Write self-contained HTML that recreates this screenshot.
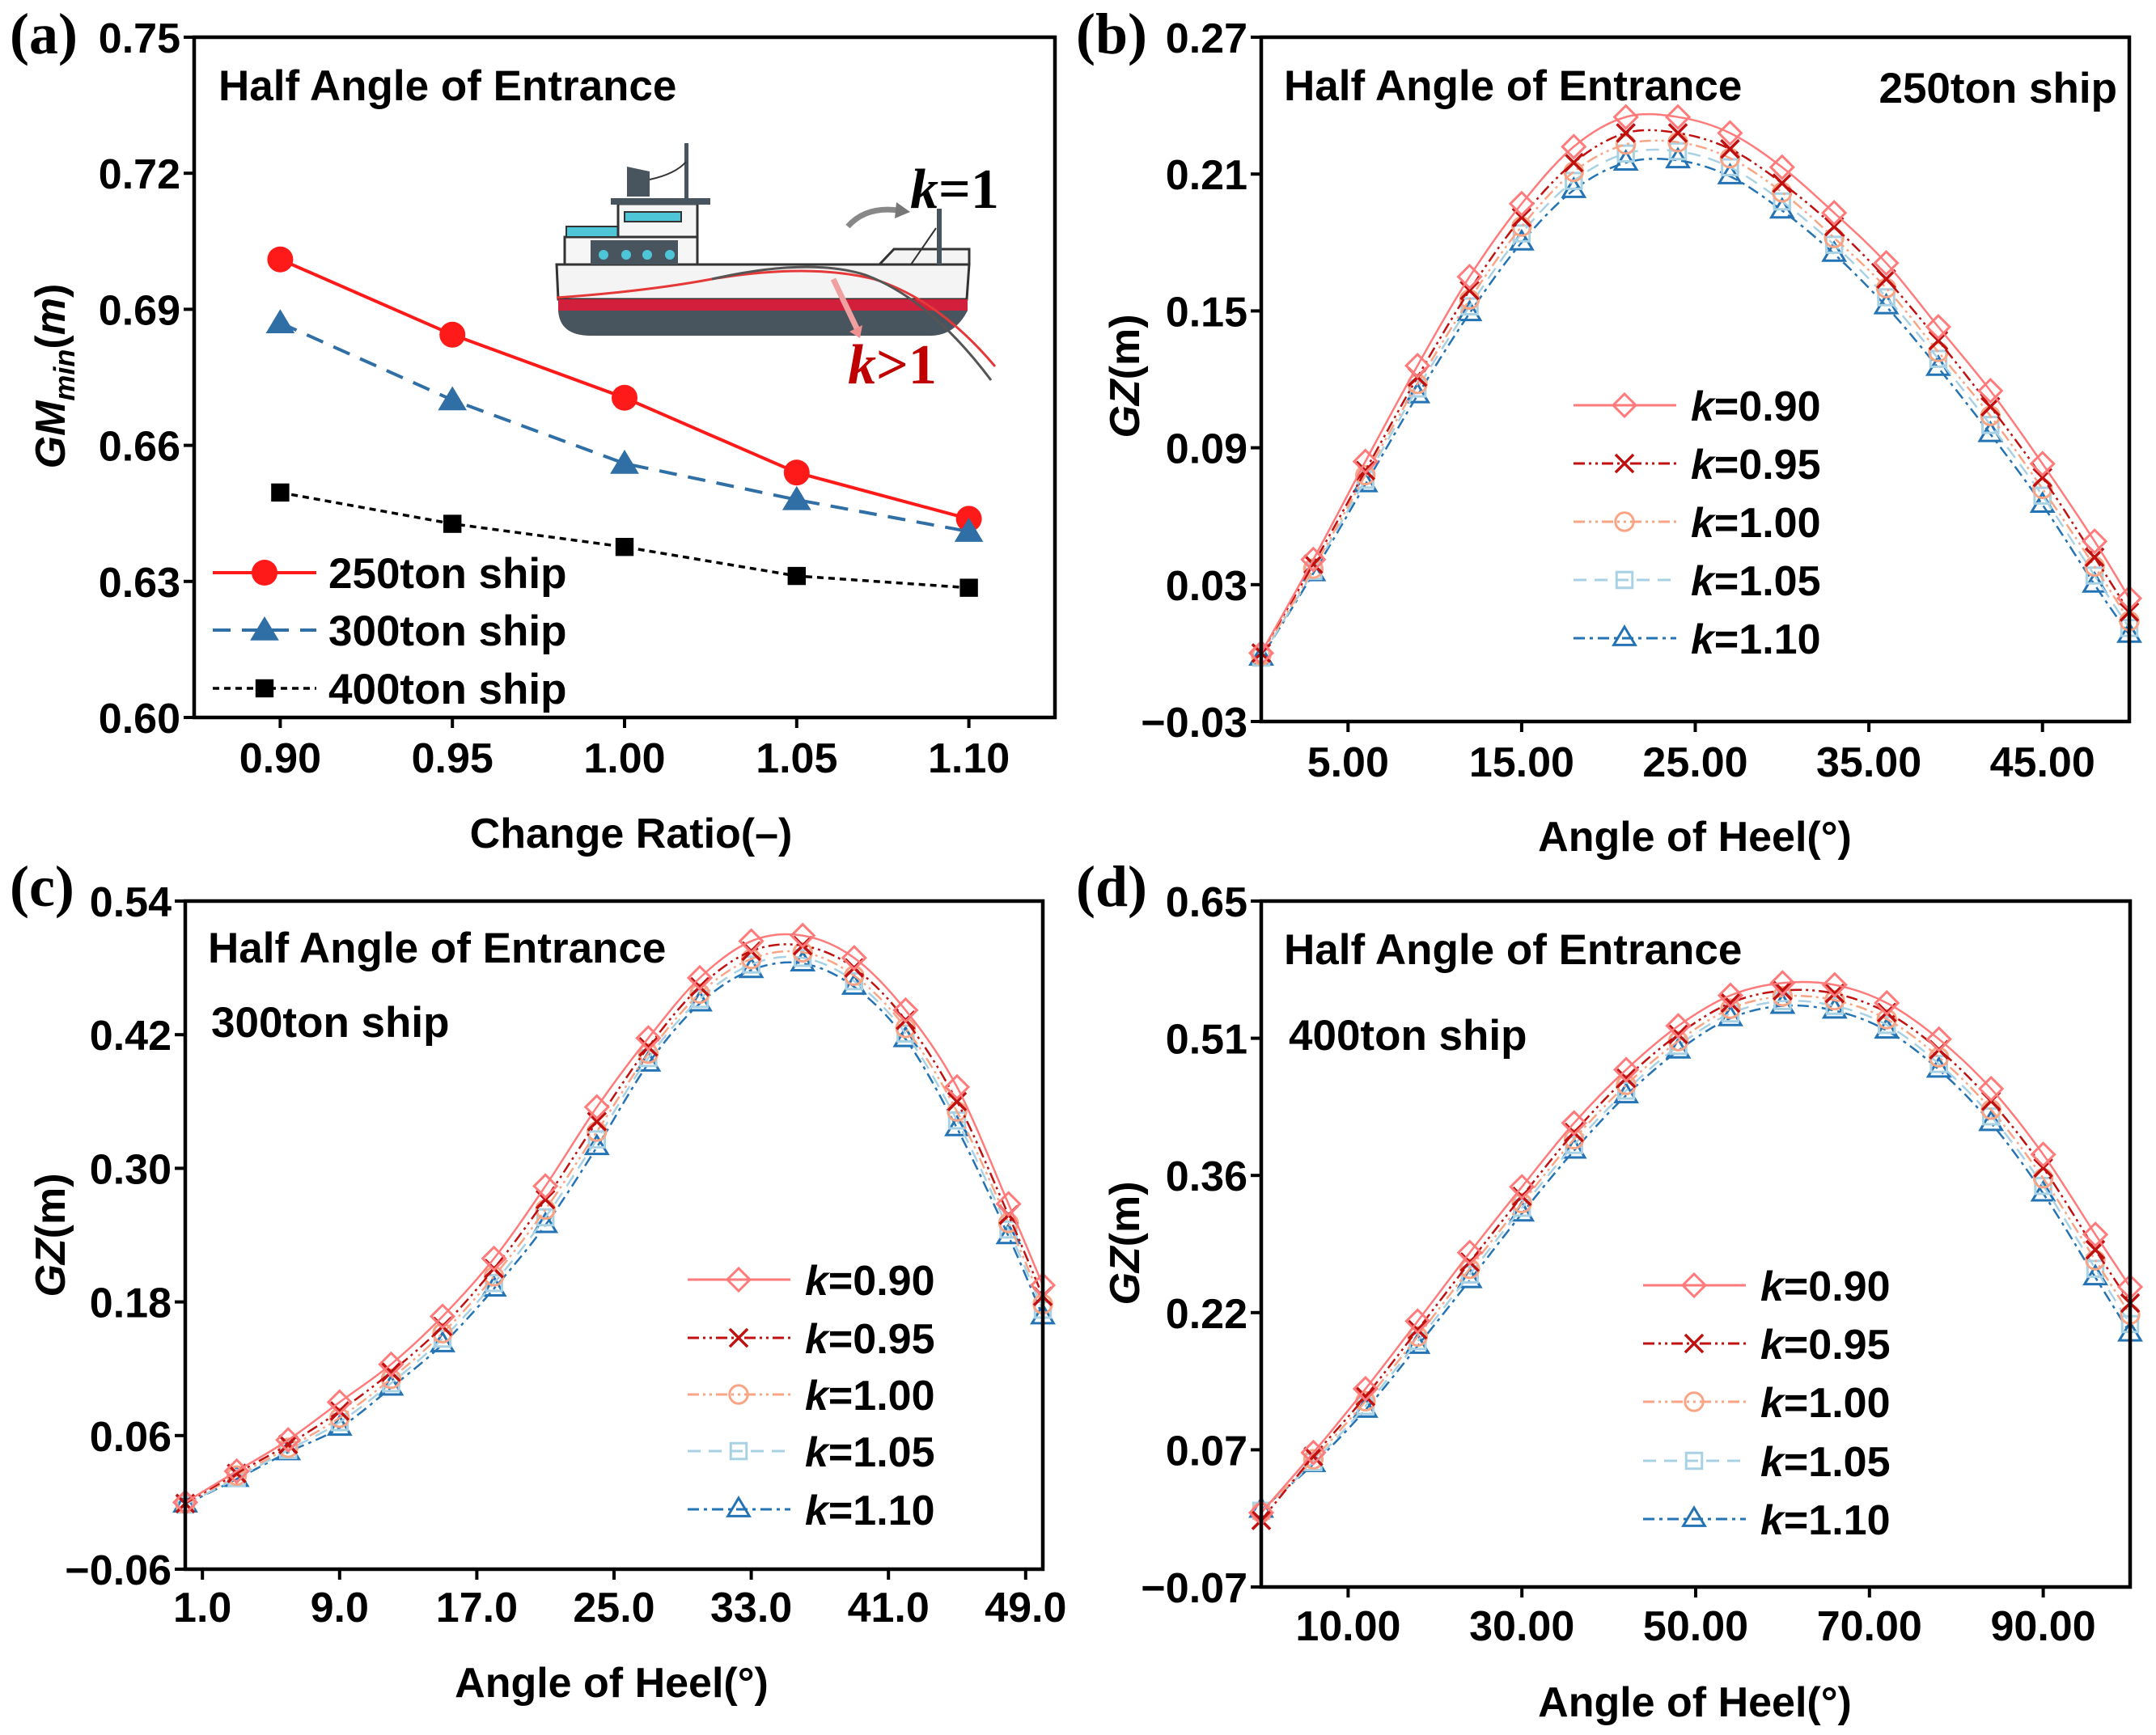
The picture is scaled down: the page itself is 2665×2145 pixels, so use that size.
<!DOCTYPE html>
<html><head><meta charset="utf-8"><title>GM and GZ charts</title>
<style>
html,body{margin:0;padding:0;background:#fff;}
svg{display:block;}
text{font-family:"Liberation Sans",Arial,sans-serif;font-weight:bold;fill:#000;}
.serif{font-family:"Liberation Serif","Times New Roman",serif;}
</style></head>
<body>
<svg id="fig" xmlns="http://www.w3.org/2000/svg" width="2665" height="2145" viewBox="0 0 2665 2145">
<g id="ship">
  <path d="M688 327 L1198 327 L1195 370 L690 370 Z" fill="#f4f4f4" stroke="#333" stroke-width="3"/>
  <rect x="690" y="370" width="506" height="14" fill="#d21f3c"/>
  <path d="M690 384 L1196 384 Q1180 415 1150 415 L730 415 Q692 415 690 384 Z" fill="#48545e"/>
  <path d="M1087 327 L1105 308 L1198 308 L1198 327 Z" fill="#f4f4f4" stroke="#333" stroke-width="3"/>
  <rect x="698" y="293" width="164" height="34" fill="#f6f6f6" stroke="#333" stroke-width="3"/>
  <rect x="730" y="297" width="108" height="30" fill="#48545e"/>
  <circle cx="746" cy="315" r="6" fill="#4fc6d8"/><circle cx="774" cy="315" r="6" fill="#4fc6d8"/><circle cx="800" cy="315" r="6" fill="#4fc6d8"/><circle cx="828" cy="315" r="6" fill="#4fc6d8"/>
  <rect x="700" y="280" width="66" height="13" fill="#4fc6d8" stroke="#333" stroke-width="2"/>
  <rect x="764" y="252" width="98" height="41" fill="#f6f6f6" stroke="#333" stroke-width="3"/>
  <rect x="772" y="262" width="70" height="12" fill="#4fc6d8" stroke="#333" stroke-width="2"/>
  <rect x="755" y="245" width="123" height="8" fill="#48545e"/>
  <path d="M775 243 L775 206 L803 212 L803 243 Z" fill="#48545e"/>
  <rect x="846" y="177" width="5" height="68" fill="#48545e"/>
  <path d="M803 222 Q835 215 848 200" fill="none" stroke="#333" stroke-width="2"/>
  <rect x="1158" y="258" width="6" height="69" fill="#48545e"/>
  <path d="M1126 327 L1157 282" stroke="#333" stroke-width="2"/>
  <path d="M688 368 Q800 360 880 345 Q1000 325 1080 345 Q1160 370 1230 453" fill="none" stroke="#e53838" stroke-width="3"/>
  <path d="M880 345 Q1000 318 1070 340 Q1150 370 1225 470" fill="none" stroke="#555" stroke-width="3"/>
  <path d="M1048 280 Q1070 255 1110 260" fill="none" stroke="#888" stroke-width="7"/>
  <path d="M1108 250 L1125 262 L1106 270 Z" fill="#777"/>
  <path d="M1030 345 L1060 408" stroke="#f0a0a0" stroke-width="7"/>
  <path d="M1050 410 L1063 418 L1066 402 Z" fill="#f09090"/>
  <text class="serif" x="1125" y="257" font-size="70"><tspan font-style="italic">k</tspan>=1</text>
  <text class="serif" x="1048" y="474" font-size="70" fill="#c00000" style="fill:#c00000"><tspan font-style="italic">k</tspan>&gt;1</text>
</g>
</svg>
<script>
// ---------- Panel (a) data ----------
const aCats = [0.90, 0.95, 1.00, 1.05, 1.10];
const a250 = [0.701, 0.6844, 0.6705, 0.654, 0.6438];
const a300 = [0.687, 0.670, 0.656, 0.648, 0.641];
const a400 = [0.6496, 0.6427, 0.6376, 0.6312, 0.6286];
const aYTicks = ["0.60","0.63","0.66","0.69","0.72","0.75"];
const aXTicks = ["0.90","0.95","1.00","1.05","1.10"];
// ---------- Panel (b) data: 250 ton ----------
const bX = [0,3,6,9,12,15,18,21,24,27,30,33,36,39,42,45,48,50];
const bK090 = [0.000,0.041,0.084,0.126,0.165,0.197,0.222,0.235,0.235,0.228,0.213,0.193,0.171,0.143,0.115,0.083,0.049,0.024];
const bK095 = [0.000,0.039,0.080,0.121,0.159,0.191,0.215,0.228,0.228,0.221,0.206,0.187,0.164,0.137,0.108,0.077,0.042,0.018];
const bK100 = [-0.001,0.037,0.078,0.118,0.155,0.187,0.211,0.223,0.224,0.217,0.202,0.182,0.160,0.132,0.104,0.072,0.038,0.014];
const bK105 = [-0.002,0.036,0.076,0.116,0.152,0.184,0.207,0.219,0.220,0.213,0.198,0.179,0.156,0.129,0.100,0.069,0.034,0.011];
const bK110 = [-0.002,0.035,0.074,0.113,0.149,0.180,0.203,0.215,0.216,0.209,0.194,0.175,0.152,0.125,0.096,0.065,0.030,0.008];
const bYTicks = ["\u22120.03","0.03","0.09","0.15","0.21","0.27"];
const bXTickVals = [5,15,25,35,45];
const bXTicks = ["5.00","15.00","25.00","35.00","45.00"];
// ---------- Panel (c) data: 300 ton ----------
const cX = [0,3,6,9,12,15,18,21,24,27,30,33,36,39,42,45,48,50];
const cK090 = [0.000,0.028,0.056,0.090,0.124,0.167,0.219,0.284,0.355,0.417,0.471,0.504,0.509,0.489,0.442,0.373,0.268,0.195];
const cK095 = [-0.001,0.026,0.052,0.082,0.117,0.158,0.210,0.272,0.342,0.409,0.463,0.495,0.500,0.480,0.433,0.360,0.258,0.185];
const cK100 = [-0.001,0.024,0.049,0.076,0.111,0.152,0.203,0.263,0.333,0.403,0.457,0.488,0.494,0.473,0.426,0.351,0.251,0.178];
const cK105 = [-0.002,0.022,0.047,0.072,0.107,0.147,0.197,0.256,0.326,0.399,0.452,0.483,0.489,0.468,0.421,0.343,0.245,0.173];
const cK110 = [-0.002,0.021,0.045,0.067,0.103,0.142,0.192,0.249,0.319,0.394,0.448,0.478,0.484,0.463,0.416,0.336,0.239,0.167];
const cYTicks = ["\u22120.06","0.06","0.18","0.30","0.42","0.54"];
const cXTickVals = [1,9,17,25,33,41,49];
const cXTicks = ["1.0","9.0","17.0","25.0","33.0","41.0","49.0"];
// ---------- Panel (d) data: 400 ton ----------
const dX = [0,6,12,18,24,30,36,42,48,54,60,66,72,78,84,90,96,100];
const dK090 = [0.008,0.071,0.138,0.209,0.281,0.350,0.417,0.473,0.519,0.551,0.564,0.562,0.543,0.505,0.453,0.384,0.300,0.245];
const dK095 = [0.000,0.067,0.130,0.200,0.271,0.340,0.407,0.464,0.510,0.543,0.556,0.553,0.533,0.494,0.440,0.370,0.284,0.228];
const dK100 = [0.008,0.064,0.125,0.193,0.264,0.333,0.400,0.457,0.503,0.537,0.550,0.546,0.526,0.486,0.431,0.359,0.273,0.216];
const dK105 = [0.010,0.061,0.120,0.188,0.258,0.328,0.394,0.451,0.498,0.532,0.545,0.540,0.520,0.479,0.424,0.351,0.264,0.206];
const dK110 = [0.011,0.059,0.116,0.183,0.252,0.322,0.388,0.446,0.493,0.527,0.540,0.535,0.514,0.473,0.417,0.343,0.255,0.196];
const dYTicks = ["\u22120.07","0.07","0.22","0.36","0.51","0.65"];
const dXTickVals = [10,30,50,70,90];
const dXTicks = ["10.00","30.00","50.00","70.00","90.00"];
const kLabels = ["0.90","0.95","1.00","1.05","1.10"];

const NS = "http://www.w3.org/2000/svg";
const svg = document.getElementById('fig');
function mk(tag, attrs, parent) {
  const e = document.createElementNS(NS, tag);
  for (const k in attrs) e.setAttribute(k, attrs[k]);
  (parent || svg).appendChild(e);
  return e;
}
function smoothPath(pts) {
  let d = "M" + pts[0][0] + " " + pts[0][1];
  for (let i = 0; i < pts.length - 1; i++) {
    const p0 = pts[Math.max(0, i - 1)], p1 = pts[i], p2 = pts[i + 1], p3 = pts[Math.min(pts.length - 1, i + 2)];
    const c1x = p1[0] + (p2[0] - p0[0]) / 6, c1y = p1[1] + (p2[1] - p0[1]) / 6;
    const c2x = p2[0] - (p3[0] - p1[0]) / 6, c2y = p2[1] - (p3[1] - p1[1]) / 6;
    d += " C" + c1x + " " + c1y + " " + c2x + " " + c2y + " " + p2[0] + " " + p2[1];
  }
  return d;
}
function marker(g, type, x, y, color, s) {
  let e;
  if (type === 'diamond') e = mk('path', {d:`M${x} ${y-s} L${x+s} ${y} L${x} ${y+s} L${x-s} ${y} Z`, fill:'none', stroke:color, 'stroke-width':3}, g);
  else if (type === 'x') e = mk('path', {d:`M${x-s*0.85} ${y-s*0.85} L${x+s*0.85} ${y+s*0.85} M${x+s*0.85} ${y-s*0.85} L${x-s*0.85} ${y+s*0.85}`, fill:'none', stroke:color, 'stroke-width':3.5}, g);
  else if (type === 'circle') e = mk('circle', {cx:x, cy:y, r:s*0.8, fill:'none', stroke:color, 'stroke-width':3}, g);
  else if (type === 'square') e = mk('rect', {x:x-s*0.75, y:y-s*0.75, width:s*1.5, height:s*1.5, fill:'none', stroke:color, 'stroke-width':3}, g);
  else if (type === 'tri') e = mk('path', {d:`M${x} ${y-s} L${x+s*0.95} ${y+s*0.6} L${x-s*0.95} ${y+s*0.6} Z`, fill:'none', stroke:color, 'stroke-width':3}, g);
  else if (type === 'fcircle') e = mk('circle', {cx:x, cy:y, r:s, fill:color}, g);
  else if (type === 'ftri') e = mk('path', {d:`M${x} ${y-s} L${x+s*1.05} ${y+s*0.75} L${x-s*1.05} ${y+s*0.75} Z`, fill:color}, g);
  else if (type === 'fsquare') e = mk('rect', {x:x-s*0.8, y:y-s*0.8, width:s*1.6, height:s*1.6, fill:color}, g);
  
  
  return e;
}
function axes(cfg) {
  const g = mk('g', {});
  
  
  const sx = v => cfg.L + (v - cfg.x0) / (cfg.x1 - cfg.x0) * (cfg.R - cfg.L);
  const sy = v => cfg.B - (v - cfg.y0) / (cfg.y1 - cfg.y0) * (cfg.B - cfg.T);
  const ny = cfg.yTicks.length;
  for (let i = 0; i < ny; i++) {
    const y = cfg.B - i * (cfg.B - cfg.T) / (ny - 1);
    mk('line', {x1:cfg.L-13, x2:cfg.L, y1:y, y2:y, stroke:'#000', 'stroke-width':4}, g);
    const t = mk('text', {x:cfg.L-17, y:y+19, 'text-anchor':'end', 'font-size':52}, g);
    t.textContent = cfg.yTicks[i];
    
    
  }
  for (let i = 0; i < cfg.xTickVals.length; i++) {
    const x = sx(cfg.xTickVals[i]);
    mk('line', {x1:x, x2:x, y1:cfg.B, y2:cfg.B+13, stroke:'#000', 'stroke-width':4}, g);
    const t = mk('text', {x:x, y:cfg.xTickY, 'text-anchor':'middle', 'font-size':52}, g);
    t.textContent = cfg.xTicks[i];
    
    
  }
  const xl = mk('text', {x:cfg.xlx, y:cfg.xly, 'text-anchor':'middle', 'font-size':52}, g);
  xl.textContent = cfg.xlabel;
  
  
  const yl = mk('text', {x:0, y:0, 'text-anchor':'middle', 'font-size':52, transform:`translate(${cfg.ylx},${cfg.yly}) rotate(-90)`}, g);
  yl.innerHTML = cfg.ylabelHTML;
  
  
  const pl = mk('text', {x:cfg.plx, y:cfg.ply, 'font-size':72, class:'serif'}, g);
  pl.textContent = cfg.plabel;
  
  
  return {g, sx, sy};
}
function frame(g, cfg) {
  const f = mk('rect', {x:cfg.L, y:cfg.T, width:cfg.R-cfg.L, height:cfg.B-cfg.T, fill:'none', stroke:'#000', 'stroke-width':4.5}, g);
  
  
}
function label(g, txt, x, y, name, anchor) {
  const t = mk('text', {x:x, y:y, 'font-size':53, 'text-anchor':anchor||'start'}, g);
  t.textContent = txt;
  
  
}

// ---------- Panel (a) ----------
(function(){
  const cfg = {name:'panel-a', L:240, T:46, R:1304, B:887, x0:0.875, x1:1.125, y0:0.60, y1:0.75,
    yTicks:aYTicks, xTickVals:aCats, xTicks:aXTicks, xTickY:955, xlabel:'Change Ratio(\u2013)', xlx:780, xly:1048,
    ylx:80, yly:465, ylabelHTML:'<tspan font-style="italic">GM</tspan><tspan font-style="italic" font-size="36" dy="12">min</tspan><tspan dy="-12">(</tspan><tspan font-style="italic">m</tspan>)',
    plabel:'(a)', plx:12, ply:66};
  const {g, sx, sy} = axes(cfg);
  label(g, 'Half Angle of Entrance', 270, 124, 'panel-title');
  const series = [
    {vals:a250, color:'#ff1a1a', dash:'', w:4, m:'fcircle', s:16, name:'series-250ton'},
    {vals:a300, color:'#2f6fa6', dash:'22 14', w:4, m:'ftri', s:17, name:'series-300ton'},
    {vals:a400, color:'#000', dash:'8 6', w:3.5, m:'fsquare', s:14, name:'series-400ton'}];
  series.forEach(sr => {
    const pts = aCats.map((c,i) => [sx(c), sy(sr.vals[i])]);
    const p = mk('polyline', {points:pts.map(p=>p.join(',')).join(' '), fill:'none', stroke:sr.color, 'stroke-width':sr.w, 'stroke-dasharray':sr.dash}, g);
    
    
    pts.forEach(pt => marker(g, sr.m, pt[0], pt[1], sr.color, sr.s));
  });
  const legNames = ['250ton ship','300ton ship','400ton ship'];
  const legY = [708, 779, 851];
  series.forEach((sr,i) => {
    const l = mk('line', {x1:263, x2:391, y1:legY[i], y2:legY[i], stroke:sr.color, 'stroke-width':sr.w, 'stroke-dasharray':sr.dash}, g);
    
    
    marker(g, sr.m, 327, legY[i], sr.color, sr.s);
    label(g, legNames[i], 406, legY[i]+19, 'legend-entry');
  });
  frame(g, cfg);
})();

// ---------- GZ panels ----------
const styles = [
  {color:'#ff7b7b', dash:'', m:'diamond', s:14},
  {color:'#c01010', dash:'14 5 3 5 3 5', m:'x', s:13},
  {color:'#f9a585', dash:'14 5 3 5 3 5', m:'circle', s:14},
  {color:'#a8d2e4', dash:'16 10', m:'square', s:13},
  {color:'#2473b4', dash:'14 6 4 6', m:'tri', s:14}];
function gzPanel(cfg, xs, seriesVals, legX, legY) {
  const {g, sx, sy} = axes(cfg);
  const clip = mk('clipPath', {id:'clip-' + cfg.name}, svg);
  mk('rect', {x:cfg.L-20, y:cfg.T, width:cfg.R-cfg.L+40, height:cfg.B-cfg.T}, clip);
  const cg = mk('g', {'clip-path':'url(#clip-' + cfg.name + ')'}, g);
  for (let si = seriesVals.length - 1; si >= 0; si--) {
    const st = styles[si];
    const pts = xs.map((x,i) => [sx(x), sy(seriesVals[si][i])]);
    const p = mk('path', {d:smoothPath(pts), fill:'none', stroke:st.color, 'stroke-width':2.5, 'stroke-dasharray':st.dash}, cg);
    
    
    pts.forEach(pt => marker(cg, st.m, pt[0], pt[1], st.color, st.s));
  }
  styles.forEach((st,i) => {
    const y = legY[i];
    const l = mk('line', {x1:legX, x2:legX+127, y1:y, y2:y, stroke:st.color, 'stroke-width':3, 'stroke-dasharray':st.dash}, g);
    
    
    marker(g, st.m, legX+63, y, st.color, st.s);
    const t = mk('text', {x:legX+145, y:y+19, 'font-size':52}, g);
    t.innerHTML = '<tspan font-style="italic">k</tspan>=' + kLabels[i];
    
    
  });
  frame(g, cfg);
  return g;
}
const gzLabel = '<tspan font-style="italic">GZ</tspan>(m)';
(function(){
  const cfg = {name:'panel-b', L:1559, T:46, R:2632, B:892, x0:0, x1:50, y0:-0.03, y1:0.27,
    yTicks:bYTicks, xTickVals:bXTickVals, xTicks:bXTicks, xTickY:960, xlabel:'Angle of Heel(\u00b0)', xlx:2095, xly:1052,
    ylx:1408, yly:465, ylabelHTML:gzLabel, plabel:'(b)', plx:1330, ply:66};
  const g = gzPanel(cfg, bX, [bK090,bK095,bK100,bK105,bK110], 1945, [501,573,645,717,789]);
  label(g, 'Half Angle of Entrance', 1587, 124, 'panel-title');
  label(g, '250ton ship', 2617, 127, 'ship-label', 'end');
})();
(function(){
  const cfg = {name:'panel-c', L:229, T:1114, R:1289, B:1940, x0:0, x1:50, y0:-0.06, y1:0.54,
    yTicks:cYTicks, xTickVals:cXTickVals, xTicks:cXTicks, xTickY:2005, xlabel:'Angle of Heel(\u00b0)', xlx:756, xly:2098,
    ylx:80, yly:1527, ylabelHTML:gzLabel, plabel:'(c)', plx:12, ply:1120};
  const g = gzPanel(cfg, cX, [cK090,cK095,cK100,cK105,cK110], 850, [1582,1654,1724,1794,1866]);
  label(g, 'Half Angle of Entrance', 257, 1190, 'panel-title');
  label(g, '300ton ship', 261, 1282, 'ship-label');
})();
(function(){
  const cfg = {name:'panel-d', L:1559, T:1114, R:2633, B:1962, x0:0, x1:100, y0:-0.07, y1:0.65,
    yTicks:dYTicks, xTickVals:dXTickVals, xTicks:dXTicks, xTickY:2028, xlabel:'Angle of Heel(\u00b0)', xlx:2095, xly:2122,
    ylx:1408, yly:1537, ylabelHTML:gzLabel, plabel:'(d)', plx:1330, ply:1120};
  const g = gzPanel(cfg, dX, [dK090,dK095,dK100,dK105,dK110], 2031, [1589,1661,1733,1806,1878]);
  label(g, 'Half Angle of Entrance', 1587, 1192, 'panel-title');
  label(g, '400ton ship', 1593, 1298, 'ship-label');
})();
</script>
</body></html>
